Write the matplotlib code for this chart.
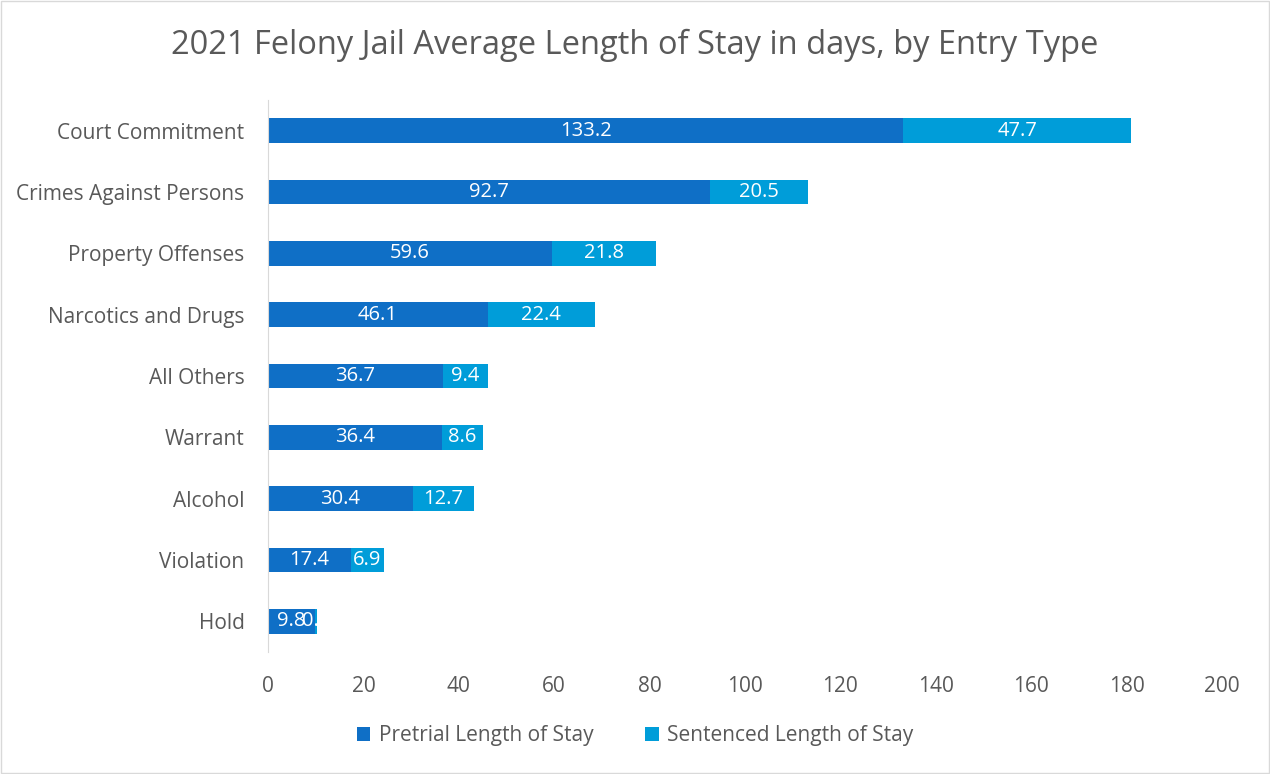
import matplotlib
matplotlib.use("Agg")
import matplotlib.pyplot as plt
from matplotlib.patches import Rectangle

categories = ["Court Commitment", "Crimes Against Persons", "Property Offenses",
              "Narcotics and Drugs", "All Others", "Warrant", "Alcohol", "Violation", "Hold"]
pretrial = [133.2, 92.7, 59.6, 46.1, 36.7, 36.4, 30.4, 17.4, 9.8]
sentenced = [47.7, 20.5, 21.8, 22.4, 9.4, 8.6, 12.7, 6.9, 0.5]
series_names = ["Pretrial Length of Stay", "Sentenced Length of Stay"]
xticks = [0, 20, 40, 60, 80, 100, 120, 140, 160, 180, 200]

c1 = "#0F6FC6"
c2 = "#009DD9"
gray = "#595959"

plt.rcParams['font.family'] = ['Open Sans', 'DejaVu Sans']

fig = plt.figure(figsize=(12.7, 7.74), dpi=100)
fig.patches.append(Rectangle((0.0008, 0.0013), 0.9984, 0.9974, transform=fig.transFigure,
                             fill=False, edgecolor="#D9D9D9", linewidth=1))
ax = fig.add_axes([268/1270, 1-652/774, (1222-268)/1270, (652-100)/774])

y = list(range(len(categories)))
h = 0.4
b1 = ax.barh(y, pretrial, height=h, color=c1)
b2 = ax.barh(y, sentenced, left=pretrial, height=h, color=c2)
for i in y:
    ax.text(pretrial[i]/2, i, f"{pretrial[i]:.1f}", ha="center", va="center",
            color="white", fontsize=14.5)
    ax.text(pretrial[i] + sentenced[i]/2, i, f"{sentenced[i]:.1f}", ha="center",
            va="center", color="white", fontsize=14.5)

ax.set_ylim(len(categories) - 0.5, -0.5)
ax.set_xlim(0, 200)
ax.set_xticks(xticks)
ax.set_yticks(y)
ax.set_yticklabels(categories)
ax.tick_params(axis="both", length=0, labelsize=15, colors=gray)
ax.tick_params(axis="x", pad=17)
ax.tick_params(axis="y", pad=17)
for s in ["top", "right", "bottom"]:
    ax.spines[s].set_visible(False)
ax.spines["left"].set_color("#D9D9D9")

fig.text(0.5, 1-45/774, "2021 Felony Jail Average Length of Stay in days, by Entry Type",
         ha="center", va="center", fontsize=23.5, color=gray)
fig.legend([b1, b2], series_names, loc="center", bbox_to_anchor=(0.5, 1-736/774),
           ncol=2, frameon=False, fontsize=15, labelcolor=gray,
           handlelength=0.65, handleheight=0.65, columnspacing=2.5, handletextpad=0.4)

fig.savefig("out.png", dpi=100)
